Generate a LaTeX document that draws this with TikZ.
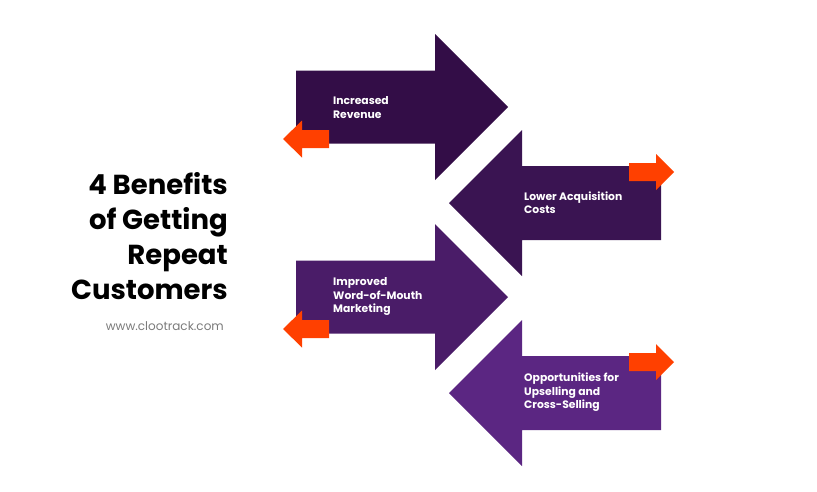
\documentclass[tikz,border=0pt]{standalone}
\usepackage{fontspec}
\setmainfont{Poppins}
\definecolor{plumA}{HTML}{330D47}
\definecolor{plumB}{HTML}{3A1452}
\definecolor{plumC}{HTML}{4A1C68}
\definecolor{plumD}{HTML}{5B2682}
\definecolor{flame}{HTML}{FF4000}
\definecolor{urlgray}{HTML}{7A7A7A}
\begin{document}
\begin{tikzpicture}[x=1pt,y=-1pt,
 benefit/.style={anchor=west,align=left,text=white,inner sep=0pt,
 font=\fontsize{10.8}{13.5}\selectfont\bfseries},
 headline/.style={anchor=east,align=right,inner sep=0pt,
 font=\fontsize{27.5}{35}\selectfont\bfseries}]
\useasboundingbox (0,0) rectangle (817,491);
% big arrows pointing right, small ones pointing left
\foreach \c/\col in {107/plumA,297/plumC}{
 \fill[\col] (296,\c-36.5) -- (435,\c-36.5) -- (435,\c-73) -- (508,\c)
 -- (435,\c+73) -- (435,\c+36.5) -- (296,\c+36.5) -- cycle;
 \fill[flame] (329,\c+23) -- (302,\c+23) -- (302,\c+13.5) -- (283,\c+32)
 -- (302,\c+50.5) -- (302,\c+41) -- (329,\c+41) -- cycle;
}
% big arrows pointing left, small ones pointing right
\foreach \c/\col in {203/plumB,393/plumD}{
 \fill[\col] (661,\c-37) -- (522,\c-37) -- (522,\c-73) -- (449,\c)
 -- (522,\c+73) -- (522,\c+37) -- (661,\c+37) -- cycle;
 \fill[flame] (629,\c-40) -- (656,\c-40) -- (656,\c-49) -- (674,\c-31)
 -- (656,\c-13) -- (656,\c-22) -- (629,\c-22) -- cycle;
}
\node[benefit] (revenue) at (333,107.5) {Increased\\Revenue};
\node[benefit] (costs) at (524,202.5) {Lower Acquisition\\Costs};
\node[benefit] (wom) at (333,296.5) {Improved\\Word-of-Mouth\\Marketing};
\node[benefit] (upsell) at (524,392.5) {Opportunities for\\Upselling and\\Cross-Selling};
\node[headline] (title) at (228,236) {4 Benefits\\of Getting\\Repeat\\Customers};
\node[anchor=east,inner sep=0pt,text=urlgray,font=\fontsize{12}{14}\selectfont]
 (url) at (224,326) {www.clootrack.com};
\end{tikzpicture}
\end{document}
